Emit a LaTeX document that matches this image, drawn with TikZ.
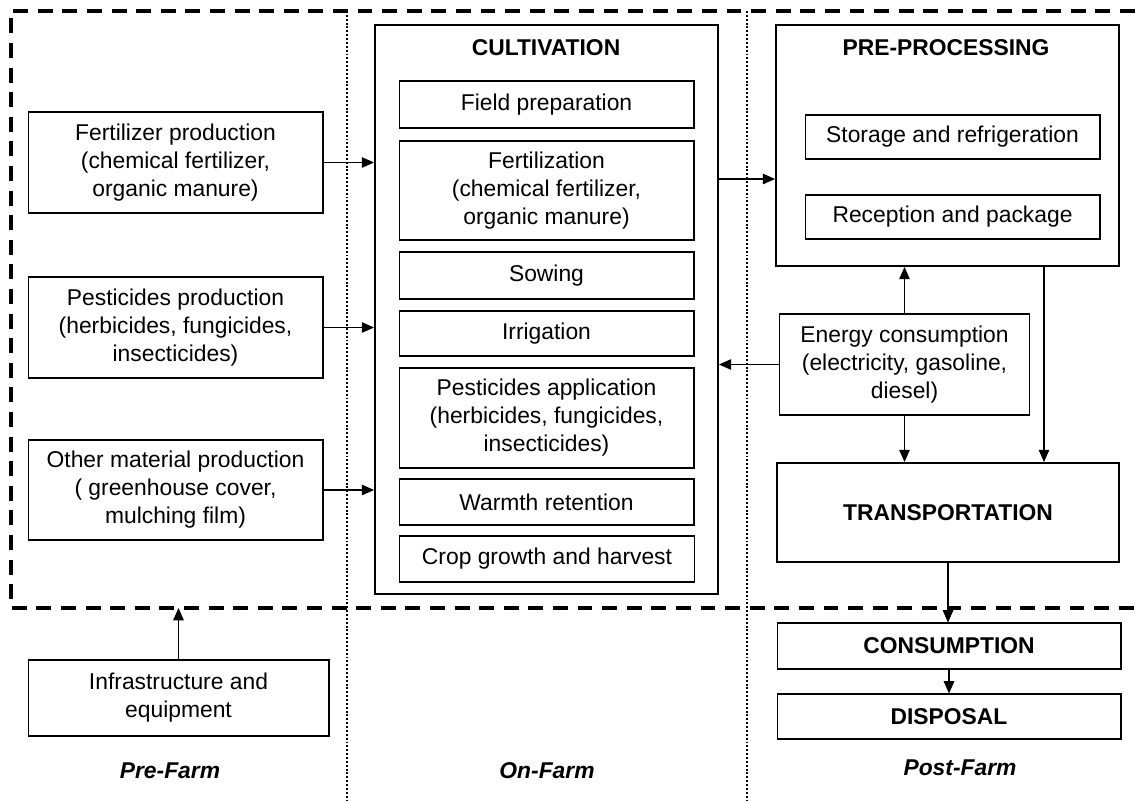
\documentclass[tikz,border=0pt]{standalone}
\usepackage{fontspec}
\setmainfont{Liberation Sans}
\usepackage{tikz}
\usetikzlibrary{shapes,arrows,positioning,calc,arrows.meta}

\tikzset{
    txt/.style={font=\fontsize{13}{15.9}\selectfont, align=center},
    box/.style={txt, draw, line width=0.6pt, inner sep=0pt, minimum width=5.9cm},
    bigbox/.style={txt, draw, line width=1.1pt, inner sep=0pt},
    title/.style={txt, font=\fontsize{13}{15.9}\selectfont\bfseries},
    phase/.style={txt, font=\fontsize{13}{15.9}\selectfont\bfseries\itshape},
    arr/.style={-{Triangle[length=7pt,width=6pt]}, line width=0.6pt},
    bound/.style={line width=2pt, dash pattern=on 8.5pt off 5.5pt},
    split/.style={line width=1.6pt, dash pattern=on 1.1pt off 1.1pt}
}

\begin{document}
\begin{tikzpicture}[x=0.02cm, y=-0.02cm]
    \useasboundingbox (0,0) rectangle (1135,801);

    % system boundary and phase lines
    \coordinate (bnw) at (11,11);
    \coordinate (bsw) at (11,608);
    \draw[bound] (1135,11) -- (bnw) -- (bsw) -- (1135,608);
    \draw[split] (347,11) -- (347,801);
    \draw[split] (747,11) -- (747,801);

    \begin{scope}
        % pre-farm
        \node[box, minimum height=2.02cm] (fert) at (175.5,162.5) {Fertilizer production\\(chemical fertilizer,\\organic manure)};
        \node[box, minimum height=2.02cm] (pest) at (175.5,327.5) {Pesticides production\\(herbicides, fungicides,\\insecticides)};
        \node[box, minimum height=2cm] (other) at (175.5,490) {Other material production\\( greenhouse cover,\\mulching film)};
        \node[box, minimum width=6.02cm, minimum height=1.52cm] (infra) at (178.5,698) {Infrastructure and\\equipment};
        \node[phase] (prefarm) at (170,771) {Pre-Farm};
    \end{scope}

    \begin{scope}
        % on-farm
        \node[bigbox, minimum width=6.86cm, minimum height=11.38cm] (cult) at (546.5,309.5) {};
        \node[title] (culttitle) at (546,48) {CULTIVATION};
        \node[box, minimum height=0.94cm] (field) at (546.5,104.5) {Field preparation};
        \node[box, minimum height=1.98cm] (fertil) at (546.5,190.5) {Fertilization\\(chemical fertilizer,\\organic manure)};
        \node[box, minimum height=0.94cm] (sow) at (546.5,275.5) {Sowing};
        \node[box, minimum height=0.9cm] (irr) at (546.5,333.5) {Irrigation};
        \node[box, minimum height=2cm] (pestapp) at (546.5,418) {Pesticides application\\(herbicides, fungicides,\\insecticides)};
        \node[box, minimum height=0.92cm] (warm) at (546.5,502) {Warmth retention};
        \node[box, minimum height=0.92cm] (crop) at (547,559) {Crop growth and harvest};
        \node[phase] (onfarm) at (547,771) {On-Farm};
    \end{scope}

    \begin{scope}
        % post-farm
        \node[bigbox, minimum width=6.86cm, minimum height=4.82cm] (pre) at (947.5,145.5) {};
        \node[title] (pretitle) at (946,48) {PRE-PROCESSING};
        \node[box, minimum height=0.88cm] (store) at (952.5,137) {Storage and refrigeration};
        \node[box, minimum height=0.88cm] (recep) at (952.5,217) {Reception and package};
        \node[box, minimum width=5cm, minimum height=2.02cm] (energy) at (904.5,364.5) {Energy consumption\\(electricity, gasoline,\\diesel)};
        \node[bigbox, minimum width=6.84cm, minimum height=1.98cm, font=\fontsize{13}{15.9}\selectfont\bfseries] (trans) at (948,512.5) {TRANSPORTATION};
        \node[box, minimum width=6.88cm, minimum height=0.92cm, font=\fontsize{13}{15.9}\selectfont\bfseries] (cons) at (949,646) {CONSUMPTION};
        \node[box, minimum width=6.88cm, minimum height=0.9cm, font=\fontsize{13}{15.9}\selectfont\bfseries] (disp) at (949,716.5) {DISPOSAL};
        \node[phase] (postfarm) at (960,768) {Post-Farm};
    \end{scope}

    % flows
    \coordinate (c2p) at (0,179);
    \coordinate (p2t) at (1044,0);
    \draw[arr] (fert.east) -- (fert.east -| cult.west);
    \draw[arr] (pest.east) -- (pest.east -| cult.west);
    \draw[arr] (other.east) -- (other.east -| cult.west);
    \draw[arr] (infra.north) -- (infra.north |- bsw);
    \draw[arr] (cult.east |- c2p) -- (pre.west |- c2p);
    \draw[arr] (energy.west) -- (energy.west -| cult.east);
    \draw[arr] (energy.north) -- (energy.north |- pre.south);
    \draw[arr] (energy.south) -- (energy.south |- trans.north);
    \draw[arr] (p2t |- pre.south) -- (p2t |- trans.north);
    \draw[arr] (trans.south) -- (trans.south |- cons.north);
    \draw[arr] (cons.south) -- (cons.south |- disp.north);
\end{tikzpicture}
\end{document}
